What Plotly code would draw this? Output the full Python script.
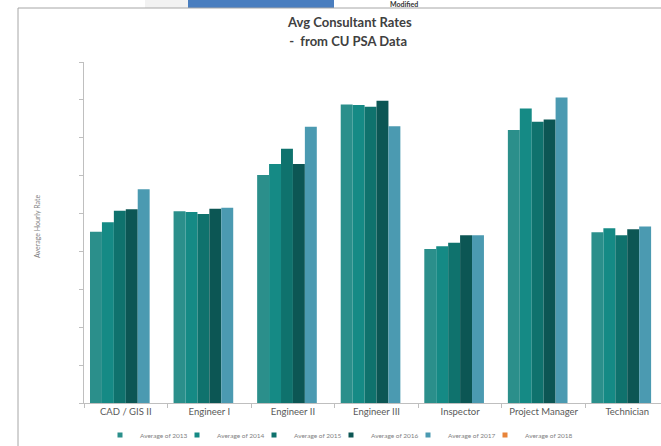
import plotly.graph_objects as go

categories = ["CAD / GIS II", "Engineer I", "Engineer II", "Engineer III",
              "Inspector", "Project Manager", "Technician"]
series_names = ["Average of 2013", "Average of 2014", "Average of 2015",
                "Average of 2016", "Average of 2017", "Average of 2018"]
avg_2013 = [90.4, 101.2, 120.3, 157.6, 81.3, 144.1, 90.1]
avg_2014 = [95.4, 100.8, 126.1, 157.3, 82.7, 155.5, 92.2]
avg_2015 = [101.5, 99.7, 134.2, 156.4, 84.6, 148.4, 88.5]
avg_2016 = [102.3, 102.5, 126.1, 159.5, 88.5, 149.7, 91.7]
avg_2017 = [112.8, 103.1, 145.8, 146.1, 88.5, 161.3, 93.2]
avg_2018 = [None, None, None, None, None, None, None]
colors = ["#2b8f8b", "#158a85", "#0f726d", "#0c5654", "#4b9ab1", "#e8843a"]
title_lines = ["Avg Consultant Rates", " -  from CU PSA Data"]

W, H = 661, 446
L, R, T, B = 84, 0, 62, 43
pw, ph = W - L - R, H - T - B

def px_x(x):
    return (x - L) / pw

def px_y(y):
    return (H - B - y) / ph

fig = go.Figure()
all_values = [avg_2013, avg_2014, avg_2015, avg_2016, avg_2017, avg_2018]
for name, vals, col in zip(series_names, all_values, colors):
    fig.add_trace(go.Bar(x=categories, y=vals, name=name, marker_color=col,
                         marker_line_width=0, showlegend=False))
for i, (name, col) in enumerate(zip(series_names, colors)):
    fig.add_trace(go.Scatter(x=[None], y=[None], mode="markers", name=name,
                             marker=dict(symbol="square", size=5, color=col),
                             legendwidth=70 if i == len(series_names) - 1 else None))

font_family = "Lato, 'Open Sans', sans-serif"

annotations = [
    dict(text=f"<b>{title_lines[0]}</b>", xref="paper", yref="paper",
         x=px_x(349), y=px_y(22), showarrow=False, xanchor="center", yanchor="middle",
         font=dict(size=13, color="#404040")),
    dict(text=f"<b>{title_lines[1]}</b>", xref="paper", yref="paper",
         x=px_x(346), y=px_y(41), showarrow=False, xanchor="center", yanchor="middle",
         font=dict(size=13, color="#404040")),
    dict(text="Average Hourly Rate", xref="paper", yref="paper",
         x=px_x(31), y=px_y(226), textangle=-90, showarrow=False,
         font=dict(size=7, color="#7f7f7f")),
    dict(text="<b>Modified</b>", xref="paper", yref="paper",
         x=px_x(388), y=px_y(4), xanchor="left", yanchor="middle",
         showarrow=False, font=dict(size=7, color="#333333")),
]

fig.update_layout(
    width=W, height=H,
    margin=dict(l=L, r=R, t=T, b=B),
    paper_bgcolor="white", plot_bgcolor="white",
    barmode="group", bargap=0.1435, bargroupgap=0,
    font=dict(family=font_family, color="#595959"),
    legend=dict(orientation="h", xref="container", yref="container",
                x=100 / W, xanchor="left", y=1 - 435 / H, yanchor="middle",
                font=dict(size=6.5, color="#7f7f7f"),
                entrywidthmode="pixels", entrywidth=32,
                bgcolor="rgba(0,0,0,0)"),
    xaxis=dict(range=[-0.5, 6.404], showline=True, linecolor="#bfbfbf", linewidth=1,
               ticks="outside", tickson="boundaries", ticklen=4, tickcolor="#bfbfbf",
               tickfont=dict(size=9.5, color="#595959"), showgrid=False, fixedrange=True),
    yaxis=dict(range=[0, 180], dtick=20, showline=True, linecolor="#bfbfbf", linewidth=1,
               ticks="outside", ticklen=4, tickcolor="#bfbfbf", showticklabels=False,
               showgrid=False, zeroline=False),
    annotations=annotations,
    shapes=[
        dict(type="rect", xref="paper", yref="paper", x0=px_x(145), x1=px_x(188),
             y0=px_y(8), y1=px_y(0), fillcolor="#f2f2f2", line_width=0, layer="below"),
        dict(type="rect", xref="paper", yref="paper", x0=px_x(188), x1=px_x(334),
             y0=px_y(8), y1=px_y(0), fillcolor="#4a7ebf", line_width=0, layer="above"),
        dict(type="line", xref="paper", yref="paper", x0=px_x(18), x1=px_x(661),
             y0=px_y(8), y1=px_y(8), line=dict(color="#a6a6a6", width=1)),
        dict(type="line", xref="paper", yref="paper", x0=px_x(18), x1=px_x(18),
             y0=px_y(8), y1=px_y(446), line=dict(color="#a6a6a6", width=1)),
    ],
)

fig.write_html("out.html")
